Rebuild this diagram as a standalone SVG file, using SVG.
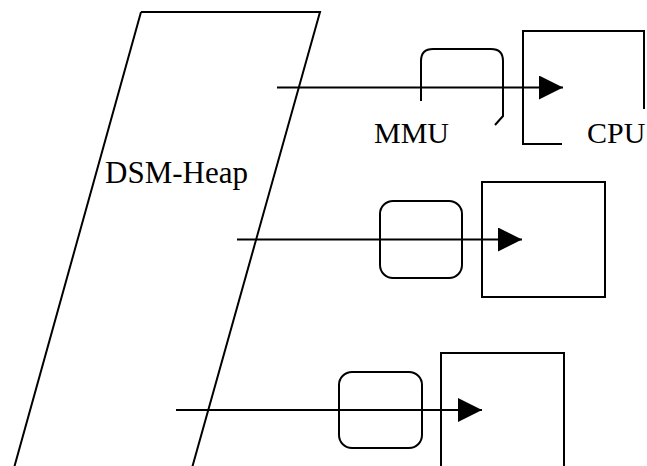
<svg xmlns="http://www.w3.org/2000/svg" width="647" height="466" viewBox="0 0 647 466">
  <style>
    .ln { fill: none; stroke: #000; stroke-width: 2; }
    .lbl { font-family: "Liberation Serif", "Times New Roman", serif; font-size: 30px; fill: #000; }
  </style>
  <defs>
    <marker id="head" viewBox="0 0 24 24" refX="24" refY="12" markerWidth="24" markerHeight="24" markerUnits="userSpaceOnUse" orient="auto">
      <path d="M0,0 L24,12 L0,24 Z" fill="#000"/>
    </marker>
  </defs>
  <rect width="647" height="466" fill="#fff"/>

  <!-- shared heap -->
  <g id="heap">
    <path class="ln" d="M141,12 H320 L192,468 M141,12 L14,468"/>
    <text class="lbl" x="105" y="183" style="font-size:31px">DSM-Heap</text>
  </g>

  <!-- node 1: MMU + CPU -->
  <g id="mmu1">
    <path class="ln" d="M421,101 V61 Q421,49 433,49 H491 Q503,49 503,61 V116 L495,125"/>
    <text class="lbl" x="374" y="143">MMU</text>
  </g>
  <g id="cpu1">
    <path class="ln" d="M562,144 H523 V31 H644 V109"/>
    <text class="lbl" x="587" y="143">CPU</text>
  </g>

  <!-- node 2 -->
  <g id="mmu2">
    <rect class="ln" x="380" y="201" width="82" height="77" rx="13"/>
  </g>
  <g id="cpu2">
    <rect class="ln" x="482" y="182" width="123" height="115"/>
  </g>

  <!-- node 3 -->
  <g id="mmu3">
    <rect class="ln" x="339" y="372" width="83" height="76" rx="13"/>
  </g>
  <g id="cpu3">
    <path class="ln" d="M441,468 V353 H564 V468"/>
  </g>

  <!-- heap-to-processor accesses -->
  <g id="connectors">
    <line class="ln" x1="277" y1="87.5" x2="563" y2="87.5" marker-end="url(#head)"/>
    <line class="ln" x1="237" y1="239.5" x2="522" y2="239.5" marker-end="url(#head)"/>
    <line class="ln" x1="176" y1="410" x2="482" y2="410" marker-end="url(#head)"/>
  </g>
</svg>
